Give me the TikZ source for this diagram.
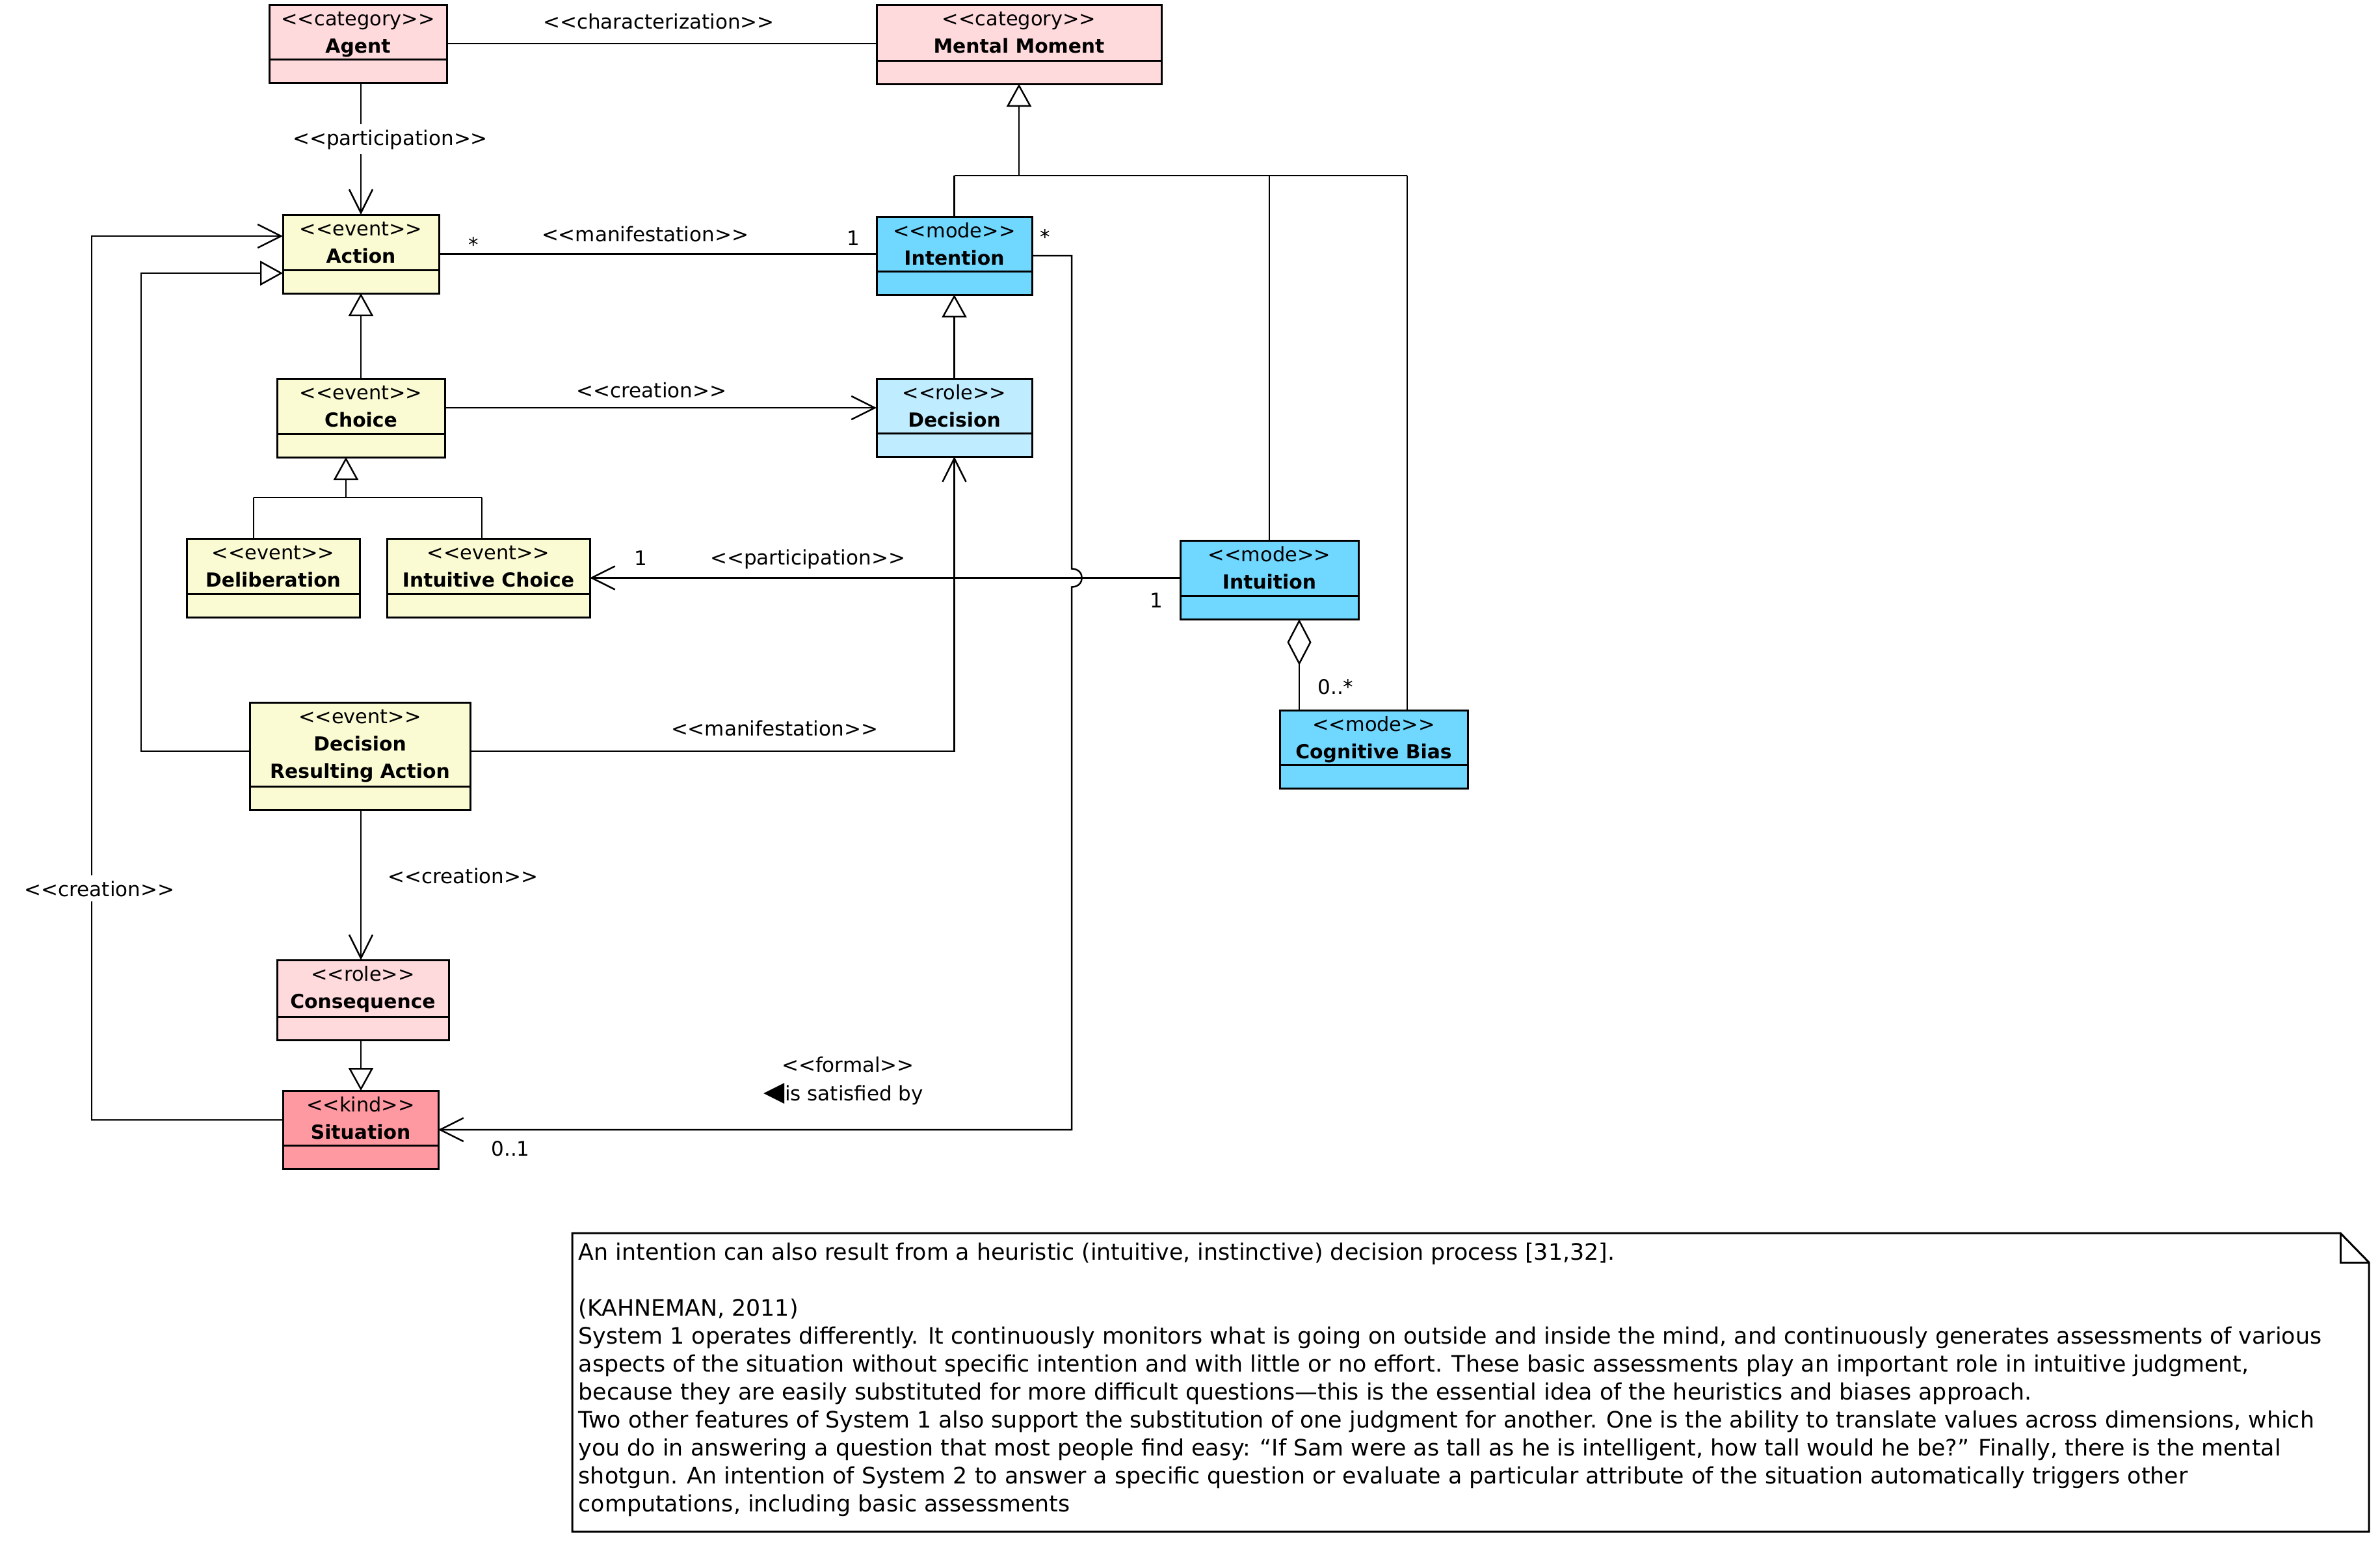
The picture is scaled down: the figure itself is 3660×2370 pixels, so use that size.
\documentclass[tikz,border=0pt]{standalone}
\usepackage{fontspec}
\setmainfont{DejaVu Sans}
\usetikzlibrary{arrows.meta,fit,calc}
\definecolor{cpink}{RGB}{255,218,221}
\definecolor{cyel}{RGB}{250,250,211}
\definecolor{ccyan}{RGB}{112,215,255}
\definecolor{clblue}{RGB}{192,236,255}
\definecolor{cred}{RGB}{255,153,161}
\newcommand\st[1]{<\kern0pt<#1>\kern0pt>}
\newcommand\bt[1]{{\fontsize{7.45}{10.6}\selectfont\bfseries #1}}
\tikzset{
  cls/.style={draw, line width=0.75pt, inner sep=0pt, outer sep=0pt},
  divl/.style={line width=0.75pt},
  boxtxt/.style={font=\fontsize{7.6}{10.6}\selectfont, inner sep=0pt, anchor=base},
  ln/.style={line width=0.62pt},
  lbl/.style={font=\fontsize{7.75}{9}\selectfont, inner sep=0pt, anchor=base},
  wlbl/.style={lbl, fill=white, inner sep=2pt},
  uarr/.tip={Straight Barb[length=9pt,width=9pt,line width=0.62pt]},
  ugen/.tip={Triangle[open,length=8.75pt,width=9.5pt,line width=0.62pt]},
  uagg/.tip={Diamond[open,length=17.75pt,width=9.25pt,line width=0.62pt]},
  notel/.style={line width=0.75pt}
}
\newcommand\umlbox[7]{%
  \node[cls, fill=#6, fit={(#2,#3) (#4,#5)}] (#1) {};
  \draw[divl] (#2,{#5-36}) -- (#4,{#5-36});
  \node[boxtxt] (#1-t) at ({(#2+#4)/2},{#3+32}) {\begin{tabular}[t]{@{}c@{}}#7\end{tabular}};
}
\begin{document}
\begin{tikzpicture}[x=0.25pt,y=-0.25pt]
\useasboundingbox (0,0) rectangle (3660,2370);
\fill[white] (0,0) rectangle (3660,2370);

% classes
\umlbox{agent}{414}{7}{687}{127}{cpink}{\st{category}\\\bt{Agent}}
\umlbox{mm}{1348}{7}{1786}{129}{cpink}{\st{category}\\\bt{Mental Moment}}
\umlbox{action}{435}{330}{675}{451}{cyel}{\st{event}\\\bt{Action}}
\umlbox{intention}{1348}{333}{1587}{453}{ccyan}{\st{mode}\\\bt{Intention}}
\umlbox{choice}{426}{582}{684}{703}{cyel}{\st{event}\\\bt{Choice}}
\umlbox{decision}{1348}{582}{1587}{702}{clblue}{\st{role}\\\bt{Decision}}
\umlbox{delib}{287}{828}{553}{949}{cyel}{\st{event}\\\bt{Deliberation}}
\umlbox{ichoice}{595}{828}{907}{949}{cyel}{\st{event}\\\bt{Intuitive Choice}}
\umlbox{intuition}{1815}{831}{2089}{952}{ccyan}{\st{mode}\\\bt{Intuition}}
\umlbox{cbias}{1968}{1092}{2257}{1212}{ccyan}{\st{mode}\\\bt{Cognitive Bias}}
\umlbox{dra}{384}{1080}{723}{1245}{cyel}{\st{event}\\\bt{Decision}\\\bt{Resulting Action}}
\umlbox{conseq}{426}{1476}{690}{1599}{cpink}{\st{role}\\\bt{Consequence}}
\umlbox{situation}{435}{1677}{674}{1797}{cred}{\st{kind}\\\bt{Situation}}

% helper coordinates
\coordinate (gt) at (1567,270);
\coordinate (gr) at (2164,270);
\coordinate (fx) at (1648,0);
\coordinate (cy) at (0,627);
\coordinate (st) at (532,765);
\coordinate (sl) at (390,765);
\coordinate (sr) at (741,765);
\coordinate (ax) at (1998,0);
\coordinate (dy) at (0,1155);
\coordinate (gx) at (217,0);
\coordinate (ay) at (0,420);
\coordinate (cx) at (555,0);
\coordinate (sy) at (0,1722);
\coordinate (lx) at (141,0);
\coordinate (ty) at (0,363);
\coordinate (hop) at (fx |- ichoice.east);

% Agent -- Mental Moment
\draw[ln] (agent.east) -- (agent.east -| mm.west);
\node[lbl] (lchar) at (1013,44) {\st{characterization}};

% Agent -> Action
\draw[ln,-{uarr}] (action.north |- agent.south) -- (action.north);
\node[wlbl] (lpart1) at (600,223) {\st{participation}};

% generalization set to Mental Moment
\draw[ln,-{ugen}] (gt) -- (mm.south |- gt) -- (mm.south);
\draw[ln] (intention.north |- gt) -- (gr);
\draw[ln] (intention.north) -- (intention.north |- gt);
\draw[ln] (intuition.north) -- (intuition.north |- gt);
\draw[ln] (cbias.north -| gr) -- (gr);

% Action -- Intention
\draw[ln] (action.east) -- (action.east -| intention.west);
\node[lbl] (lst1) at (728,387) {*};
\node[lbl] (lman1) at (992,371) {\st{manifestation}};
\node[lbl] (lone1) at (1312,377) {1};

% Intention -> Situation (formal)
\draw[ln,-{uarr}] (intention.east) -- (intention.east -| fx) -- ($(hop)+(0,-14)$)
  .. controls +(21,0) and +(21,0) .. ($(hop)+(0,14)$) -- (fx |- situation.east) -- (situation.east);
\node[lbl] (lst2) at (1607,375) {*};
\node[lbl] (lformal) at (1304,1648) {\st{formal}};
\node[lbl, anchor=base west] (lsat) at (1174,1692) {{\fontsize{10.5}{10}\selectfont ◀}is satisfied by};
\node[lbl] (l01) at (785,1777) {0..1};

% Choice -> Action
\draw[ln,-{ugen}] (choice.north) -- (action.south);
% Choice -> Decision
\draw[ln,-{uarr}] (choice.east |- cy) -- (decision.west |- cy);
\node[lbl] (lcre1) at (1002,611) {\st{creation}};
% Decision -> Intention
\draw[ln,-{ugen}] (decision.north) -- (intention.south);

% Deliberation, Intuitive Choice -> Choice
\draw[ln,-{ugen}] (st) -- (choice.south -| st);
\draw[ln] (sl) -- (sr);
\draw[ln] (sl) -- (delib.north -| sl);
\draw[ln] (sr) -- (ichoice.north -| sr);

% Intuition -> Intuitive Choice
\draw[ln,-{uarr}] (intuition.west |- ichoice.east) -- (ichoice.east);
\node[lbl] (lone2) at (985,869) {1};
\node[lbl] (lpart2) at (1242,868) {\st{participation}};
\node[lbl] (lone3) at (1778,934) {1};

% Cognitive Bias -<> Intuition
\draw[ln,-{uagg}] (cbias.north -| ax) -- (intuition.south -| ax);
\node[lbl] (l0s) at (2054,1067) {0..*};

% DRA -> Action
\draw[ln,-{ugen}] (dra.west |- dy) -- (gx |- dy) -- (gx |- ay) -- (action.west |- ay);
% DRA -> Decision
\draw[ln,-{uarr}] (dra.east |- dy) -- (decision.south |- dy) -- (decision.south);
\node[lbl] (lman2) at (1191,1131) {\st{manifestation}};
% DRA -> Consequence
\draw[ln,-{uarr}] (dra.south -| cx) -- (conseq.north -| cx);
\node[lbl] (lcre2) at (712,1358) {\st{creation}};
% Consequence -> Situation
\draw[ln,-{ugen}] (conseq.south -| cx) -- (situation.north -| cx);
% Situation -> Action
\draw[ln,-{uarr}] (situation.west |- sy) -- (lx |- sy) -- (lx |- ty) -- (action.west |- ty);
\node[wlbl] (lcre3) at (153,1378) {\st{creation}};

% note
\node[fit={(880,1896) (3643,2355)}, inner sep=0pt, outer sep=0pt] (note) {};
\draw[notel] (note.north west) -- ($(note.north east)+(-44,0)$) -- ($(note.north east)+(0,45)$)
  -- (note.south east) -- (note.south west) -- cycle;
\draw[notel] ($(note.north east)+(-44,0)$) -- ($(note.north east)+(-44,45)$) -- ($(note.north east)+(0,45)$);
\node[anchor=base west, inner sep=0pt, font=\fontsize{8.7}{10.75}\selectfont] (notetext) at (889,1937)
{\begin{tabular}[t]{@{}l@{}}
An intention can also result from a heuristic (intuitive, instinctive) decision process [31,32].\\
\\
(KAHNEMAN, 2011)\\
System 1 operates differently. It continuously monitors what is going on outside and inside the mind, and continuously generates assessments of various\\
aspects of the situation without specific intention and with little or no effort. These basic assessments play an important role in intuitive judgment,\\
because they are easily substituted for more difficult questions—this is the essential idea of the heuristics and biases approach.\\
Two other features of System 1 also support the substitution of one judgment for another. One is the ability to translate values across dimensions, which\\
you do in answering a question that most people find easy: “If Sam were as tall as he is intelligent, how tall would he be?” Finally, there is the mental\\
shotgun. An intention of System 2 to answer a specific question or evaluate a particular attribute of the situation automatically triggers other\\
computations, including basic assessments
\end{tabular}};
\end{tikzpicture}
\end{document}
